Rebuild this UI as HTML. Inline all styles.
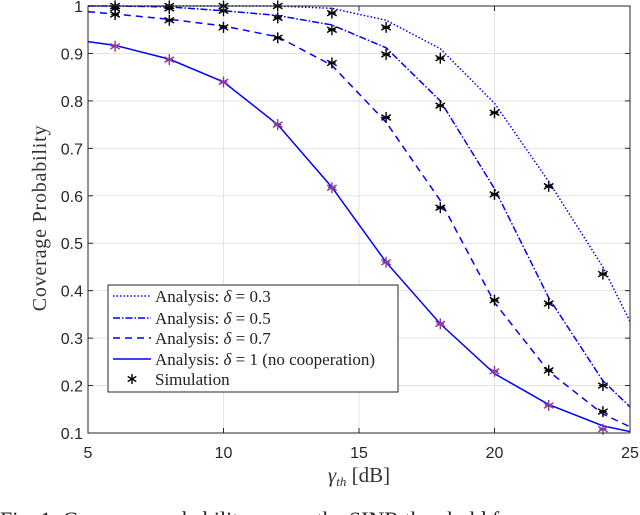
<!DOCTYPE html>
<html><head><meta charset="utf-8"><style>
body{margin:0;background:#fff;width:640px;height:515px;overflow:hidden}
svg{display:block}
text{font-family:"Liberation Sans",sans-serif}
.serif{font-family:"Liberation Serif",serif}
</style></head><body>
<svg id="chart" width="640" height="515"></svg>
<script>
const xVals=[5,6,8,10,12,14,16,18,20,22,24,25];
const d03=[1,1,1,1,1,0.995,0.97,0.91,0.795,0.63,0.45,0.335];
const d05=[1,1,0.998,0.99,0.98,0.96,0.912,0.80,0.615,0.385,0.21,0.155];
const d07=[0.988,0.983,0.972,0.958,0.935,0.875,0.755,0.59,0.375,0.23,0.14,0.113];
const d1=[0.925,0.917,0.888,0.84,0.75,0.618,0.46,0.33,0.225,0.16,0.115,0.103];
const simX=[6,8,10,12,14,16,18,20,22,24];
const sim03=[1,1,1,1,0.985,0.955,0.89,0.775,0.62,0.435];
const sim05=[0.995,0.995,0.99,0.975,0.95,0.898,0.79,0.603,0.373,0.2];
const sim07=[0.982,0.97,0.955,0.933,0.88,0.765,0.575,0.38,0.232,0.145];
const sim1=[0.915,0.887,0.84,0.75,0.617,0.46,0.33,0.23,0.158,0.108];
const xTicks=[5,10,15,20,25];
const yTicks=[0.1,0.2,0.3,0.4,0.5,0.6,0.7,0.8,0.9,1];
const yTickLabels=["0.1","0.2","0.3","0.4","0.5","0.6","0.7","0.8","0.9","1"];

const NS="http://www.w3.org/2000/svg";
const svg=document.getElementById('chart');
const L=88,R=630,T=6,B=433;
const sx=v=>L+(v-5)/20*(R-L);
const sy=v=>B-(v-0.1)/0.9*(B-T);
function mk(tag,attrs,parent){const e=document.createElementNS(NS,tag);for(const k in attrs)e.setAttribute(k,attrs[k]);(parent||svg).appendChild(e);return e;}

const grid=mk('g',{});


xTicks.forEach(t=>{const l=mk('line',{x1:sx(t),x2:sx(t),y1:T,y2:B,stroke:'#e3e3e3','stroke-width':1},grid);

});
yTicks.forEach(t=>{const l=mk('line',{x1:L,x2:R,y1:sy(t),y2:sy(t),stroke:'#e3e3e3','stroke-width':1},grid);

});

const series=[[d03,'1.5 2'],[d05,'7 2 1.5 2'],[d07,'7 5'],[d1,'none']];
const names=['line-delta-0-3','line-delta-0-5','line-delta-0-7','line-delta-1'];
series.forEach((s,i)=>{const p=mk('polyline',{points:xVals.map((x,j)=>sx(x)+','+sy(s[0][j])).join(' '),fill:'none',stroke:'#0000ff','stroke-width':1.5,'stroke-dasharray':s[1]});

});

function star(x,y,c,parent){const g=mk('g',{stroke:c,'stroke-width':1.4},parent);const r=5.5;
[[0,r],[r*0.87,r*0.5],[r*0.87,-r*0.5]].forEach(([dx,dy])=>mk('line',{x1:x-dx,y1:y-dy,x2:x+dx,y2:y+dy},g));
mk('line',{x1:x-r*0.7,y1:y,x2:x+r*0.7,y2:y},g);return g;}
[[sim03,'#000'],[sim05,'#000'],[sim07,'#000'],[sim1,'#8b3a9a']].forEach((s,i)=>{
simX.forEach((x,j)=>{const g=star(sx(x),sy(s[0][j]),s[1]);

});});

const frame=mk('rect',{x:L,y:T,width:R-L,height:B-T,fill:'none',stroke:'#262626','stroke-width':1});


xTicks.forEach(t=>{mk('line',{x1:sx(t),x2:sx(t),y1:B,y2:B-5,stroke:'#262626'});mk('line',{x1:sx(t),x2:sx(t),y1:T,y2:T+5,stroke:'#262626'});
const tx=mk('text',{x:sx(t),y:B+25,'text-anchor':'middle','font-size':16,fill:'#262626'});tx.textContent=t;

});
yTicks.forEach((t,i)=>{mk('line',{x1:L,x2:L+5,y1:sy(t),y2:sy(t),stroke:'#262626'});mk('line',{x1:R,x2:R-5,y1:sy(t),y2:sy(t),stroke:'#262626'});
const tx=mk('text',{x:L-5,y:sy(t)+6,'text-anchor':'end','font-size':16,fill:'#262626'});tx.textContent=yTickLabels[i];

});
</script>
<svg width="640" height="515" style="position:absolute;left:0;top:0">
<text class="serif" x="46" y="218" transform="rotate(-90 46 218)" text-anchor="middle" font-size="20" letter-spacing="0.8" fill="#333">Coverage Probability</text>
<text class="serif" x="359" y="482" text-anchor="middle" font-size="21" fill="#333"><tspan font-style="italic">γ</tspan><tspan font-size="13" font-style="italic" dy="4">th</tspan><tspan dy="-4"> [dB]</tspan></text>
<g>
<rect x="108" y="285" width="290" height="107" fill="#fff" stroke="#262626" stroke-width="1"/>
<line x1="113" x2="151" y1="296" y2="296" stroke="#00f" stroke-width="1.5" stroke-dasharray="1.5 2"/>
<line x1="113" x2="151" y1="318" y2="318" stroke="#00f" stroke-width="1.5" stroke-dasharray="7 2 1.5 2"/>
<line x1="113" x2="151" y1="338" y2="338" stroke="#00f" stroke-width="1.5" stroke-dasharray="7 5"/>
<line x1="113" x2="151" y1="359" y2="359" stroke="#00f" stroke-width="1.5"/>
<g stroke="#000" stroke-width="1.4"><line x1="132" y1="374" x2="132" y2="384"/><line x1="127.7" y1="376.5" x2="136.3" y2="381.5"/><line x1="127.7" y1="381.5" x2="136.3" y2="376.5"/></g>
<g class="serif" font-size="17" fill="#222">
<text class="serif" x="155" y="302">Analysis: <tspan font-style="italic">δ</tspan> = 0.3</text>
<text class="serif" x="155" y="324">Analysis: <tspan font-style="italic">δ</tspan> = 0.5</text>
<text class="serif" x="155" y="344">Analysis: <tspan font-style="italic">δ</tspan> = 0.7</text>
<text class="serif" x="155" y="365">Analysis: <tspan font-style="italic">δ</tspan> = 1 (no cooperation)</text>
<text class="serif" x="155" y="385">Simulation</text>
</g></g>
<text class="serif" x="0" y="527" font-size="22" fill="#222">Fig. 1: Coverage probability versus the SINR threshold for</text>
</svg>
</body></html>
